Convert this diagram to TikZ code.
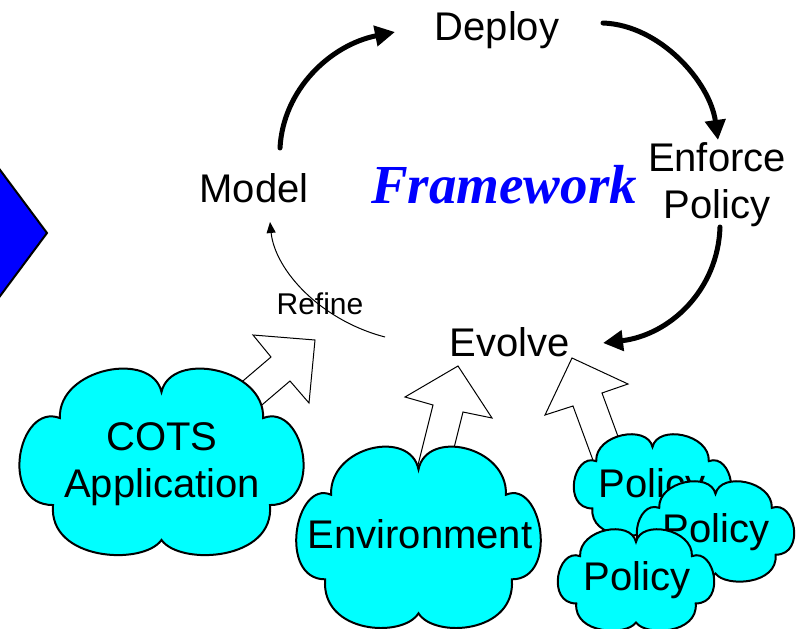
\documentclass[tikz,border=0pt]{standalone}
\usepackage{fontspec}
\setmainfont{Liberation Sans}
\newfontfamily\serifB{Liberation Serif}
\usetikzlibrary{arrows.meta}
\definecolor{cloudcyan}{RGB}{0,255,255}
\definecolor{diamblue}{RGB}{0,0,255}
\tikzset{
  lbl/.style={inner sep=0pt, font=\fontsize{40}{47}\selectfont, align=center},
  smalllbl/.style={inner sep=0pt, font=\fontsize{30}{36}\selectfont},
  fw/.style={inner sep=0pt, text=diamblue, font=\serifB\bfseries\itshape\fontsize{55}{60}\selectfont},
  cyc/.style={line width=5pt, line cap=round, -{Triangle[length=20pt,width=20pt]}},
  thinarr/.style={line width=1pt, -{Triangle[length=11pt,width=9pt]}},
  hollow/.style={draw=black, fill=white, line width=1pt, line join=miter},
  cloudsty/.style={draw=black, fill=cloudcyan, line width=2pt},
  diam/.style={draw=black, fill=diamblue, line width=2pt},
}
\newcommand\drawcloud[4]{%
  \begin{scope}[shift={(#1,#2)},xscale=#3,yscale=#4]
    \path[cloudsty] (0.5,0.121)
      .. controls (0.533,-0.11) and (0.861,-0.011) .. (0.854,0.264)
      .. controls (1.0,0.176) and (1.07,0.742) .. (0.878,0.742)
      .. controls (0.895,1.049) and (0.564,1.077) .. (0.5,0.934)
      .. controls (0.436,1.077) and (0.105,1.049) .. (0.122,0.742)
      .. controls (-0.07,0.742) and (0.0,0.176) .. (0.146,0.264)
      .. controls (0.139,-0.011) and (0.467,-0.11) .. (0.5,0.121) -- cycle;
  \end{scope}}
\begin{document}
\begin{tikzpicture}[x=1pt,y=-1pt]
  \useasboundingbox (0,0) rectangle (796,629);
  \clip (0,0) rectangle (796,629);
  % blue diamond at the left edge
  \path[diam] (47,233) -- (-20,143) -- (-87,233) -- (-20,323) -- cycle;

  % labels of the cycle
  \node[lbl, anchor=base] (deploy) at (497,41) {Deploy};
  \node[lbl, anchor=base] (model) at (254,202) {Model};
  \node[lbl, anchor=base] (enforce) at (717,218) {Enforce\\Policy};
  \node[lbl, anchor=base] (evolve) at (510,356) {Evolve};
  \node[smalllbl, anchor=base] (refine) at (320,314) {Refine};
  \node[fw, anchor=base] (framework) at (504,203) {Framework};

  % cycle arrows
  \coordinate (a1s) at (280,148); \coordinate (a1e) at (395,32);
  \coordinate (a2s) at (603,23);  \coordinate (a2e) at (718,140);
  \coordinate (a3s) at (720,227); \coordinate (a3e) at (603,343);
  \coordinate (a4s) at (385,337); \coordinate (a4e) at (270,222);
  \draw[cyc] (a1s) .. controls (283,90) and (330,45) .. (a1e);
  \draw[cyc] (a2s) .. controls (660,25) and (710,82) .. (a2e);
  \draw[cyc] (a3s) .. controls (718,290) and (670,335) .. (a3e);
  \draw[thinarr] (a4s) .. controls (320,320) and (275,270) .. (a4e);

  % hollow block arrows (behind the clouds)
  \path[hollow] (315,340) -- (309,403) -- (290,381) -- (229,433) -- (210,409) -- (271,357) -- (253,335) -- cycle;
  \path[hollow] (458,366) -- (492,418) -- (463,412) -- (442,496) -- (412,489) -- (433,405) -- (405,397) -- cycle;
  \path[hollow] (572,358) -- (628,384) -- (602,393) -- (630,469) -- (601,482) -- (573,406) -- (545,415) -- cycle;

  % clouds
  \drawcloud{18}{370}{287}{182}
  \node[lbl, anchor=base] (cots) at (162,497) {COTS\\Application};
  \drawcloud{295}{448}{247}{177}
  \node[lbl, anchor=base] (env) at (420,548) {Environment};
  \drawcloud{573}{435}{159}{99}
  \node[lbl, anchor=base] (pol1) at (652,497) {Policy};
  \drawcloud{636}{482}{159}{98}
  \node[lbl, anchor=base] (pol2) at (716,542) {Policy};
  \drawcloud{557}{530}{158}{99}
  \node[lbl, anchor=base] (pol3) at (637,590) {Policy};
\end{tikzpicture}
\end{document}
